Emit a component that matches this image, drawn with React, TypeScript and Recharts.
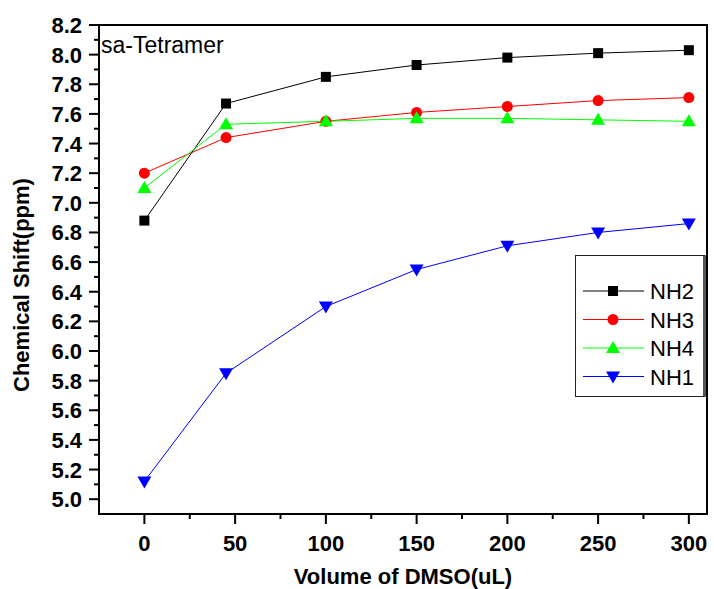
import React from "react";
import { LineChart, Line, XAxis, YAxis, Legend, ReferenceArea } from "recharts";

// DMSO titration, sa-Tetramer
const volumes = [0, 45, 100, 150, 200, 250, 300];
const nh2 = [6.88, 7.67, 7.85, 7.93, 7.98, 8.01, 8.03];
const nh3 = [7.2, 7.44, 7.55, 7.61, 7.65, 7.69, 7.71];
const nh4 = [7.1, 7.53, 7.55, 7.57, 7.57, 7.56, 7.55];
const nh1 = [5.12, 5.85, 6.3, 6.55, 6.71, 6.8, 6.86];

const xTicks = [0, 25, 50, 75, 100, 125, 150, 175, 200, 225, 250, 275, 300];
const yTicks = Array.from({ length: 33 }, (_, i) => Math.round((5 + i * 0.1) * 10) / 10);

const data = volumes.map((v, i) => ({
  x: v,
  NH2: nh2[i],
  NH3: nh3[i],
  NH4: nh4[i],
  NH1: nh1[i],
}));

const series = [
  { key: "NH2", color: "#000000", shape: "square" },
  { key: "NH3", color: "#ff0000", shape: "circle" },
  { key: "NH4", color: "#00ff00", shape: "up" },
  { key: "NH1", color: "#0000ff", shape: "down" },
];

const FONT = '"Liberation Sans", Arial, sans-serif';

function Marker({ shape, cx, cy, color }: any) {
  if (cx == null || cy == null) return null;
  if (shape === "square")
    return <rect x={cx - 5} y={cy - 5} width={10} height={10} fill={color} />;
  if (shape === "circle") return <circle cx={cx} cy={cy} r={5.5} fill={color} />;
  if (shape === "up")
    return (
      <polygon
        points={`${cx},${cy - 7} ${cx + 7},${cy + 5} ${cx - 7},${cy + 5}`}
        fill={color}
      />
    );
  return (
    <polygon
      points={`${cx - 7},${cy - 5} ${cx + 7},${cy - 5} ${cx},${cy + 7}`}
      fill={color}
    />
  );
}

function XTick({ x, y, payload }: any) {
  const v = payload.value;
  const major = v % 50 === 0;
  return (
    <g>
      <line x1={x} x2={x} y1={y} y2={y + (major ? 10 : 5)} stroke="#000" strokeWidth={2} />
      {major && (
        <text x={x} y={y + 37} textAnchor="middle" fontFamily={FONT} fontWeight="bold" fontSize={22} fill="#000">
          {v}
        </text>
      )}
    </g>
  );
}

function YTick({ x, y, payload }: any) {
  const v = payload.value;
  const major = Math.round(v * 10) % 2 === 0;
  return (
    <g>
      <line x1={x} x2={x - (major ? 10 : 5)} y1={y} y2={y} stroke="#000" strokeWidth={2} />
      {major && (
        <text x={x - 17} y={y + 8} textAnchor="end" fontFamily={FONT} fontWeight="bold" fontSize={22} fill="#000">
          {v.toFixed(1)}
        </text>
      )}
    </g>
  );
}

function LegendBox() {
  return (
    <div
      style={{
        width: 131,
        height: 142,
        boxSizing: "border-box",
        border: "1px solid #222",
        borderRight: "3px solid #555",
        background: "#fff",
      }}
    >
      <svg width={127} height={140} style={{ display: "block" }}>
        {series.map((s, i) => {
          const cy = 35 + i * 28.5;
          return (
            <g key={s.key}>
              <line x1={7} x2={68} y1={cy} y2={cy} stroke={s.color} strokeWidth={1} />
              <Marker shape={s.shape} cx={37} cy={cy} color={s.color} />
              <text x={74} y={cy + 8} fontFamily={FONT} fontSize={22} fill="#000">
                {s.key}
              </text>
            </g>
          );
        })}
      </svg>
    </div>
  );
}

export default function App() {
  return (
    <div style={{ position: "fixed", left: 0, top: 0, background: "#fff" }}>
      <LineChart
        width={714}
        height={589}
        data={data}
        margin={{ top: 25, right: 7, bottom: 0, left: 0 }}
      >
        <XAxis
          type="number"
          dataKey="x"
          domain={[-25, 310]}
          ticks={xTicks}
          allowDataOverflow
          height={75}
          tickSize={0}
          tickMargin={0}
          tickLine={false}
          interval={0}
          axisLine={{ stroke: "#000", strokeWidth: 2 }}
          tick={<XTick />}
          label={{
            value: "Volume of DMSO(uL)",
            position: "insideBottom",
            offset: 5,
            style: { fontFamily: FONT, fontWeight: "bold", fontSize: 22, fill: "#000" },
          }}
        />
        <YAxis
          type="number"
          domain={[4.9, 8.2]}
          ticks={yTicks}
          allowDataOverflow
          width={99}
          tickSize={0}
          tickMargin={0}
          tickLine={false}
          interval={0}
          axisLine={{ stroke: "#000", strokeWidth: 2 }}
          tick={<YTick />}
          label={{
            content: () => (
              <text
                transform="translate(29,285) rotate(-90)"
                textAnchor="middle"
                fontFamily={FONT}
                fontWeight="bold"
                fontSize={22}
                fill="#000"
              >
                Chemical Shift(ppm)
              </text>
            ),
          }}
        />
        <ReferenceArea
          x1={-25}
          x2={310}
          y1={4.9}
          y2={8.2}
          fill="none"
          stroke="#000"
          strokeWidth={2}
          label={{
            content: () => (
              <text x={101} y={53} fontFamily={FONT} fontSize={23} fill="#000">
                sa-Tetramer
              </text>
            ),
          }}
        />
        <Legend
          layout="vertical"
          align="center"
          verticalAlign="middle"
          content={<LegendBox />}
          wrapperStyle={{ left: 575, top: 255, width: 131, height: 142 }}
        />
        {series.map((s) => (
          <Line
            key={s.key}
            type="linear"
            dataKey={s.key}
            stroke={s.color}
            strokeWidth={1}
            isAnimationActive={false}
            dot={(p: any) => (
              <Marker key={`${s.key}-${p.index}`} shape={s.shape} cx={p.cx} cy={p.cy} color={s.color} />
            )}
            activeDot={false}
          />
        ))}
      </LineChart>
    </div>
  );
}
